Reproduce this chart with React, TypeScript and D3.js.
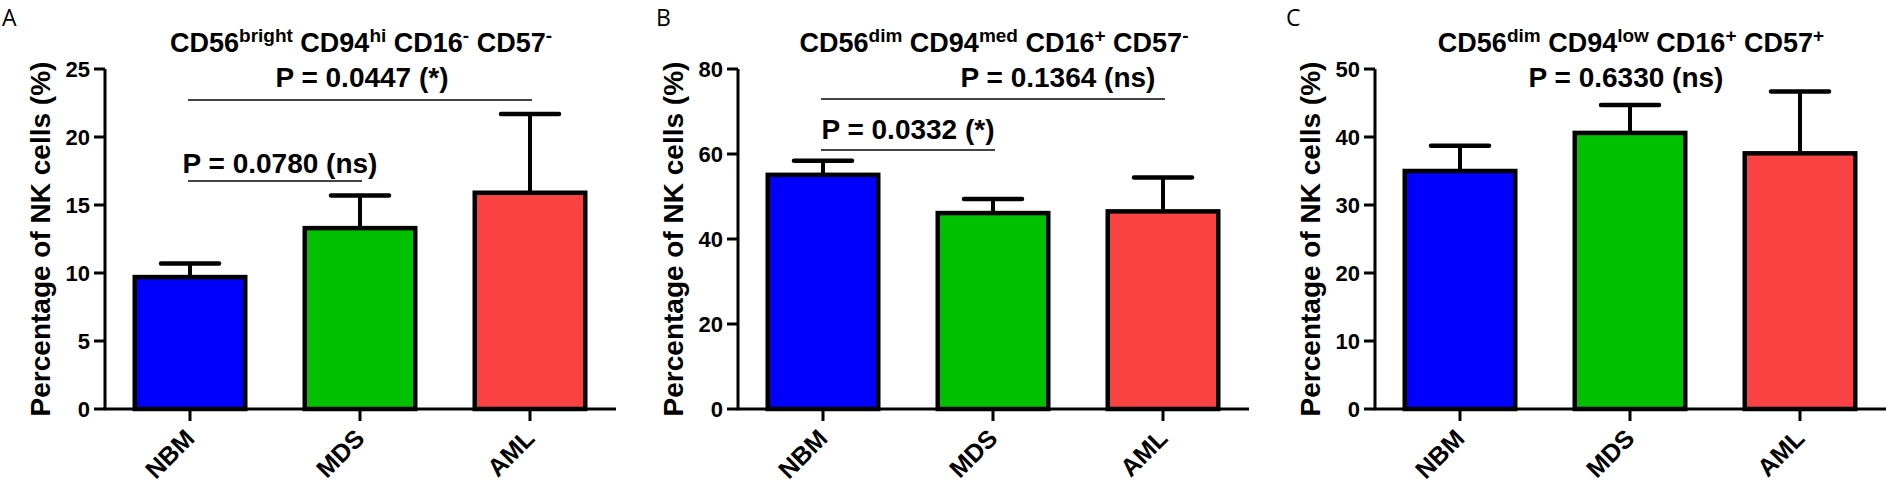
import React from "react";
import { scaleLinear, scaleBand } from "d3";

// groups and bar colours shared by the three panels
const categories = ["NBM", "MDS", "AML"];
const barColors = ["#0000FF", "#00C000", "#FA4242"];

// panel A: CD56bright CD94hi CD16- CD57-
const meanA = [9.7, 13.3, 15.9];
const errA = [1.0, 2.4, 5.8];
const ticksA = [0, 5, 10, 15, 20, 25];

// panel B: CD56dim CD94med CD16+ CD57-
const meanB = [55.1, 46.1, 46.5];
const errB = [3.3, 3.3, 8.0];
const ticksB = [0, 20, 40, 60, 80];

// panel C: CD56dim CD94low CD16+ CD57+
const meanC = [35.0, 40.6, 37.6];
const errC = [3.7, 4.1, 9.1];
const ticksC = [0, 10, 20, 30, 40, 50];

const titleA = [["CD56", "bright"], ["CD94", "hi"], ["CD16", "-"], ["CD57", "-"]];
const titleB = [["CD56", "dim"], ["CD94", "med"], ["CD16", "+"], ["CD57", "-"]];
const titleC = [["CD56", "dim"], ["CD94", "low"], ["CD16", "+"], ["CD57", "+"]];

// significance comparisons (from/to group, label)
const sigA = [
  { from: "NBM", to: "MDS", label: "P = 0.0780 (ns)" },
  { from: "NBM", to: "AML", label: "P = 0.0447 (*)" },
];
const sigB = [
  { from: "NBM", to: "MDS", label: "P = 0.0332 (*)" },
  { from: "NBM", to: "AML", label: "P = 0.1364 (ns)" },
];
const sigC = [{ from: "", to: "", label: "P = 0.6330 (ns)" }];

const W = 1887;
const H = 489;
const Y0 = 409;
const YTOP = 69;
const FONT = "'Liberation Sans', Arial, sans-serif";

const panels = [
  {
    letter: "A", letterX: 2, axisX: 105, title: titleA, mean: meanA, err: errA, ticks: ticksA, sig: sigA,
    sigPos: [{ lineY: 181, textX: 280, textY: 173 }, { lineY: 100, textX: 362, textY: 87 }],
  },
  {
    letter: "B", letterX: 656, axisX: 738, title: titleB, mean: meanB, err: errB, ticks: ticksB, sig: sigB,
    sigPos: [{ lineY: 150, textX: 908, textY: 139 }, { lineY: 99, textX: 1058, textY: 87 }],
  },
  {
    letter: "C", letterX: 1286, axisX: 1375, title: titleC, mean: meanC, err: errC, ticks: ticksC, sig: sigC,
    sigPos: [{ lineY: 0, textX: 1626, textY: 87 }],
  },
];

function Panel({ p }: { p: any }) {
  const x = scaleBand<string>()
    .domain(categories)
    .range([p.axisX, p.axisX + 510])
    .paddingInner(0.35)
    .paddingOuter(0.175);
  const y = scaleLinear()
    .domain([0, p.ticks[p.ticks.length - 1]])
    .range([Y0, YTOP]);
  const bw = x.bandwidth();
  const cx = (c: string) => (x(c) as number) + bw / 2;

  return (
    <g fontFamily={FONT} fontWeight="bold">
      <text x={p.letterX} y={26} fontSize={23} fontWeight="normal" fontFamily="'Open Sans', sans-serif">
        {p.letter}
      </text>
      <text x={p.axisX + 256} y={52} fontSize={27} textAnchor="middle">
        {p.title.map((t: string[], i: number) => (
          <React.Fragment key={i}>
            <tspan dy={i === 0 ? 0 : 10}>{(i === 0 ? "" : "\u00A0") + t[0]}</tspan>
            <tspan dy={-10} fontSize={19}>{t[1]}</tspan>
          </React.Fragment>
        ))}
      </text>

      {/* bars with upper error bars */}
      {categories.map((c, i) => (
        <g key={c}>
          <line x1={cx(c)} x2={cx(c)} y1={y(p.mean[i])} y2={y(p.mean[i] + p.err[i])} stroke="#000" strokeWidth={4} />
          <line x1={cx(c) - 29} x2={cx(c) + 29} y1={y(p.mean[i] + p.err[i])} y2={y(p.mean[i] + p.err[i])}
            stroke="#000" strokeWidth={4.5} strokeLinecap="round" />
          <rect x={x(c)} y={y(p.mean[i])} width={bw} height={Y0 - y(p.mean[i])}
            fill={barColors[i]} stroke="#000" strokeWidth={4.5} />
        </g>
      ))}

      {/* y axis */}
      <line x1={p.axisX} x2={p.axisX} y1={Y0} y2={YTOP} stroke="#000" strokeWidth={3} />
      {p.ticks.map((t: number) => (
        <g key={t}>
          <line x1={p.axisX - 11} x2={p.axisX} y1={y(t)} y2={y(t)} stroke="#000" strokeWidth={3} />
          <text x={p.axisX - 15} y={y(t)} dy="0.36em" fontSize={22} textAnchor="end">{t}</text>
        </g>
      ))}
      <text transform={`translate(${p.axisX - 65},${(Y0 + YTOP) / 2}) rotate(-90)`} dy="0.36em"
        fontSize={28} textAnchor="middle">
        Percentage of NK cells (%)
      </text>

      {/* x axis */}
      <line x1={p.axisX - 1.5} x2={p.axisX + 511} y1={Y0} y2={Y0} stroke="#000" strokeWidth={3} />
      {categories.map((c) => (
        <g key={c}>
          <line x1={cx(c)} x2={cx(c)} y1={Y0} y2={Y0 + 12} stroke="#000" strokeWidth={3} />
          <text transform={`translate(${cx(c) + 6},${Y0 + 31}) rotate(-45)`} fontSize={25} textAnchor="end">
            {c}
          </text>
        </g>
      ))}

      {/* significance */}
      {p.sig.map((s: any, i: number) => (
        <g key={i}>
          {s.from && (
            <line x1={cx(s.from) - 2} x2={cx(s.to) + 2} y1={p.sigPos[i].lineY} y2={p.sigPos[i].lineY}
              stroke="#444" strokeWidth={2} />
          )}
          <text x={p.sigPos[i].textX} y={p.sigPos[i].textY} fontSize={28} textAnchor="middle">{s.label}</text>
        </g>
      ))}
    </g>
  );
}

export default function App() {
  return (
    <svg width={W} height={H} style={{ position: "absolute", left: 0, top: 0, background: "#fff" }}>
      <rect width={W} height={H} fill="#fff" />
      {panels.map((p) => (
        <Panel key={p.letter} p={p} />
      ))}
    </svg>
  );
}
